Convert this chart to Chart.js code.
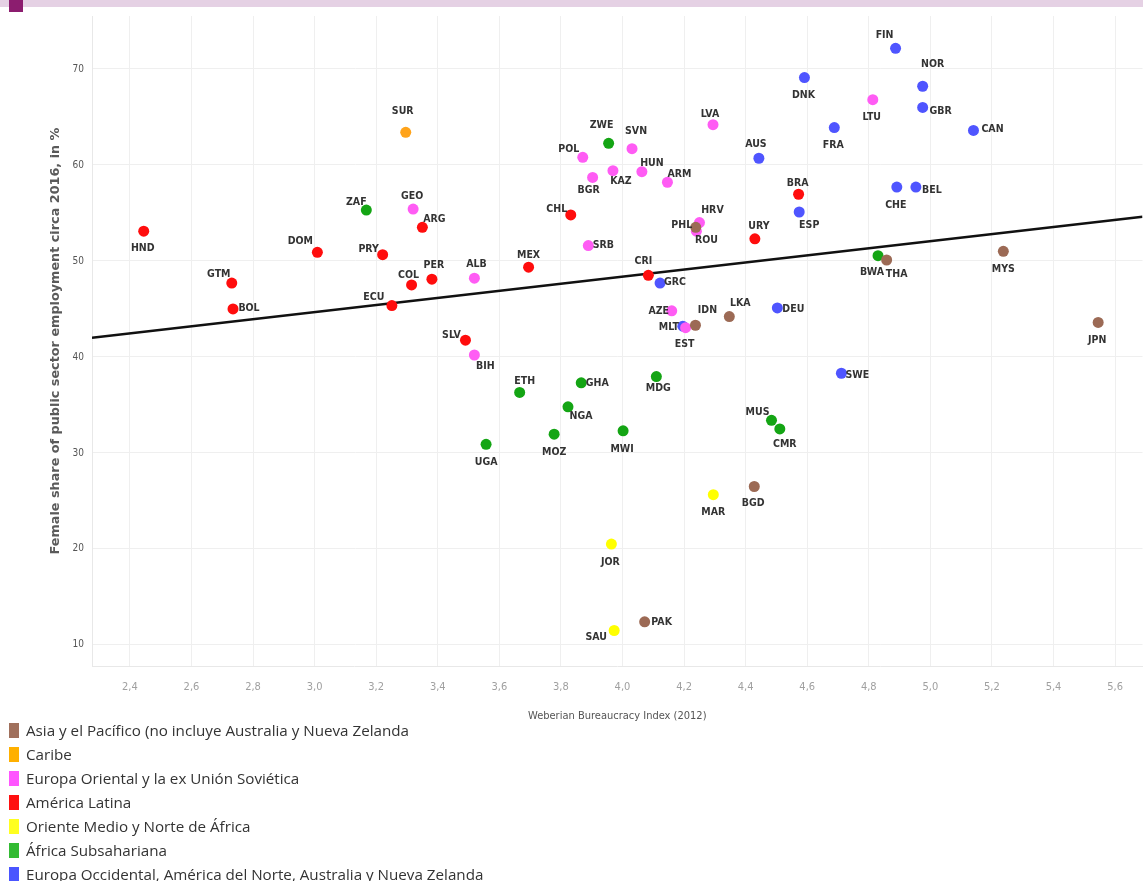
<!DOCTYPE html>
<html>
<head>
<meta charset="utf-8">
<script src="https://cdn.jsdelivr.net/npm/chart.js@4.4.1/dist/chart.umd.min.js"></script>
<style>
  html, body { margin: 0; padding: 0; background: #fff; }
  body { width: 1143px; height: 881px; position: relative; overflow: hidden; font-family: "Open Sans", Lato, sans-serif; }
  #topbar { position: absolute; left: 0; top: 0; width: 1143px; height: 7px; background: #e5d1e4; }
  #topmark { position: absolute; left: 9px; top: 0; width: 14px; height: 12px; background: #8c1d6f; }
  #wrap { position: absolute; left: 0; top: 0; width: 1148px; height: 730px; }
  #legend { position: absolute; left: 9px; top: 718px; }
  .item { height: 24px; display: flex; align-items: center; font-size: 15.2px; color: #333; white-space: nowrap; }
  .sw { width: 10px; height: 15px; margin-right: 7px; flex: none; }
</style>
</head>
<body>
<div id="wrap"><canvas id="chart"></canvas></div>
<div id="topbar"></div>
<div id="topmark"></div>
<div id="legend"></div>
<script>
// tick values
const xTicks = [2.4, 2.6, 2.8, 3.0, 3.2, 3.4, 3.6, 3.8, 4.0, 4.2, 4.4, 4.6, 4.8, 5.0, 5.2, 5.4, 5.6];
const yTicks = [10, 20, 30, 40, 50, 60, 70];

// Asia y el Pacífico
const asiaCodes = ["PHL", "IDN", "LKA", "THA", "MYS", "JPN", "BGD", "PAK"];
const asiaX = [4.238, 4.237, 4.347, 4.858, 5.237, 5.545, 4.428, 4.072];
const asiaY = [53.5, 43.3, 44.2, 50.1, 51.0, 43.6, 26.5, 12.4];

// Caribe
const caribeCodes = ["SUR"];
const caribeX = [3.296];
const caribeY = [63.4];

// Europa Oriental y la ex Unión Soviética
const eastCodes = ["GEO", "ALB", "BIH", "POL", "BGR", "KAZ", "SVN", "HUN", "ARM", "SRB", "LVA", "HRV", "ROU", "AZE", "EST", "LTU"];
const eastX = [3.320, 3.519, 3.519, 3.871, 3.903, 3.969, 4.031, 4.063, 4.146, 3.889, 4.294, 4.250, 4.240, 4.160, 4.205, 4.813];
const eastY = [55.4, 48.2, 40.2, 60.8, 58.7, 59.4, 61.7, 59.3, 58.2, 51.6, 64.2, 54.0, 53.1, 44.8, 43.05, 66.8];

// América Latina
const latamCodes = ["HND", "GTM", "BOL", "DOM", "PRY", "ARG", "COL", "PER", "ECU", "SLV", "MEX", "CHL", "CRI", "URY", "BRA"];
const latamX = [2.445, 2.731, 2.735, 3.009, 3.221, 3.350, 3.315, 3.381, 3.251, 3.490, 3.695, 3.832, 4.084, 4.430, 4.572];
const latamY = [53.1, 47.7, 45.0, 50.9, 50.65, 53.5, 47.5, 48.1, 45.35, 41.75, 49.35, 54.8, 48.5, 52.3, 56.95];

// Oriente Medio y Norte de África
const menaCodes = ["MAR", "JOR", "SAU"];
const menaX = [4.295, 3.964, 3.973];
const menaY = [25.65, 20.5, 11.5];

// África Subsahariana
const africaCodes = ["ZAF", "ZWE", "ETH", "GHA", "NGA", "MOZ", "UGA", "MWI", "MDG", "MUS", "CMR", "BWA"];
const africaX = [3.168, 3.955, 3.666, 3.866, 3.823, 3.778, 3.557, 4.002, 4.110, 4.484, 4.511, 4.830];
const africaY = [55.3, 62.25, 36.3, 37.3, 34.8, 31.95, 30.9, 32.3, 37.95, 33.4, 32.5, 50.55];

// Europa Occidental, América del Norte, Australia y Nueva Zelanda
const westCodes = ["FIN", "NOR", "GBR", "DNK", "FRA", "CAN", "AUS", "CHE", "BEL", "ESP", "GRC", "DEU", "SWE", "MLT"];
const westX = [4.887, 4.975, 4.975, 4.591, 4.688, 5.140, 4.443, 4.891, 4.953, 4.574, 4.122, 4.503, 4.711, 4.196];
const westY = [72.15, 68.2, 66.0, 69.1, 63.9, 63.6, 60.7, 57.7, 57.7, 55.1, 47.7, 45.1, 38.3, 43.2];

// fitted trend line end points
const trendX = [2.277, 5.689];
const trendY = [42.0, 54.6];

const regionLabels = [
  "Asia y el Pacífico (no incluye Australia y Nueva Zelanda",
  "Caribe",
  "Europa Oriental y la ex Unión Soviética",
  "América Latina",
  "Oriente Medio y Norte de África",
  "África Subsahariana",
  "Europa Occidental, América del Norte, Australia y Nueva Zelanda"
];
const dotColors = ["#9c6a55", "#ffa31a", "#ff5cf4", "#ff0d0d", "#ffff00", "#14a514", "#4f55ff"];
const legendColors = ["#a0705c", "#ffb000", "#ff55ff", "#ff1010", "#ffff20", "#33bb33", "#4a55ff"];

// label placement relative to the dot, in px
const labelOffsets = {
  HND: [-1, 17], GTM: [-13, -9], BOL: [16, -1], DOM: [-17, -11], PRY: [-14, -5], ZAF: [-10, -8],
  GEO: [-1, -13], SUR: [-3, -21], ECU: [-18, -8], COL: [-3, -10], PER: [2, -14], ARG: [12, -8],
  ZWE: [-7, -18], SVN: [4, -17], POL: [-14, -8], HUN: [10, -8], KAZ: [8, 11], BGR: [-4, 13],
  ARM: [12, -8], LVA: [-3, -10], AUS: [-3, -14], CHL: [-14, -6], SRB: [15, 0], HRV: [13, -12],
  PHL: [-14, -2], ROU: [10, 9], URY: [4, -13], CRI: [-5, -14], GRC: [15, -1], MEX: [0, -12],
  ALB: [2, -14], AZE: [-13, 0], MLT: [-14, 1], EST: [-1, 17], IDN: [12, -15], LKA: [11, -13],
  DEU: [16, 1], SLV: [-14, -5], FIN: [-11, -13], NOR: [10, -22], GBR: [18, 4], DNK: [-1, 18],
  LTU: [-1, 18], FRA: [-1, 18], CAN: [19, -1], BRA: [-1, -11], ESP: [10, 13], CHE: [-1, 18],
  BEL: [16, 3], BWA: [-6, 17], THA: [10, 14], MYS: [0, 18], JPN: [-1, 18], SWE: [16, 2],
  BIH: [11, 11], ETH: [5, -11], GHA: [16, 0], NGA: [13, 9], MOZ: [0, 18], UGA: [0, 18],
  MWI: [-1, 18], MDG: [2, 12], MUS: [-14, -8], CMR: [5, 15], MAR: [0, 18], BGD: [-1, 17],
  JOR: [-1, 18], SAU: [-18, 7], PAK: [17, 0]
};

const regions = [
  [asiaCodes, asiaX, asiaY],
  [caribeCodes, caribeX, caribeY],
  [eastCodes, eastX, eastY],
  [latamCodes, latamX, latamY],
  [menaCodes, menaX, menaY],
  [africaCodes, africaX, africaY],
  [westCodes, westX, westY]
];

const datasets = regions.map(([codes, xs, ys], i) => ({
  type: "scatter",
  label: regionLabels[i],
  codes: codes,
  data: xs.map((x, j) => ({ x: x, y: ys[j] })),
  backgroundColor: dotColors[i],
  borderWidth: 0,
  pointRadius: 5.5,
  pointHoverRadius: 5.5,
  order: 1
}));

datasets.push({
  type: "line",
  label: "trend",
  data: trendX.map((x, j) => ({ x: x, y: trendY[j] })),
  borderColor: "#111",
  borderWidth: 2.5,
  pointRadius: 0,
  fill: false,
  order: 10
});

const pointLabels = {
  id: "pointLabels",
  afterDatasetsDraw(chart) {
    const ctx = chart.ctx;
    ctx.save();
    ctx.font = 'bold 10.5px "DejaVu Sans Condensed", "Liberation Sans Narrow", sans-serif';
    ctx.fillStyle = "#333";
    ctx.textAlign = "center";
    ctx.textBaseline = "middle";
    chart.data.datasets.forEach((ds, i) => {
      if (!ds.codes) return;
      chart.getDatasetMeta(i).data.forEach((pt, j) => {
        const code = ds.codes[j];
        const off = labelOffsets[code] || [0, -13];
        ctx.fillText(code, pt.x + off[0], pt.y + off[1]);
      });
    });
    ctx.restore();
  }
};

new Chart(document.getElementById("chart"), {
  type: "scatter",
  data: { datasets: datasets },
  plugins: [pointLabels],
  options: {
    responsive: true,
    maintainAspectRatio: false,
    animation: false,
    layout: { padding: { top: 16, right: 0, left: 0, bottom: 0 } },
    plugins: { legend: { display: false }, tooltip: { enabled: false } },
    scales: {
      x: {
        type: "linear",
        min: 2.277,
        max: 5.689,
        afterBuildTicks: s => { s.ticks = xTicks.map(v => ({ value: v })); },
        afterFit: s => { s.height = 64; },
        grid: { color: "#efefef", drawTicks: false },
        border: { color: "#e8e8e8" },
        ticks: {
          padding: 15,
          color: "#a0a0a0",
          font: { size: 11, family: '"DejaVu Sans Condensed", sans-serif' },
          callback: v => v.toFixed(1).replace(".", ",")
        },
        title: {
          display: true,
          text: "Weberian Bureaucracy Index (2012)",
          color: "#555",
          padding: { top: 0, bottom: 7 },
          font: { size: 11, family: '"DejaVu Sans Condensed", sans-serif' }
        }
      },
      y: {
        type: "linear",
        min: 7.8,
        max: 75.52,
        afterBuildTicks: s => { s.ticks = yTicks.map(v => ({ value: v })); },
        afterFit: s => { s.width = 92; },
        grid: { color: "#efefef", drawTicks: false },
        border: { color: "#e8e8e8" },
        ticks: {
          padding: 8,
          color: "#555",
          font: { size: 10, family: '"DejaVu Sans Condensed", sans-serif' }
        },
        title: {
          display: true,
          text: "Female share of public sector employment circa 2016, in %",
          color: "#5a5a5a",
          padding: { top: 48, bottom: 0 },
          font: { size: 12.8, weight: "bold", family: '"DejaVu Sans", sans-serif' }
        }
      }
    }
  }
});

const legend = document.getElementById("legend");
regionLabels.forEach((name, i) => {
  const row = document.createElement("div");
  row.className = "item";
  const sw = document.createElement("span");
  sw.className = "sw";
  sw.style.background = legendColors[i];
  const txt = document.createElement("span");
  txt.textContent = name;
  row.appendChild(sw);
  row.appendChild(txt);
  legend.appendChild(row);
});
</script>
</body>
</html>
